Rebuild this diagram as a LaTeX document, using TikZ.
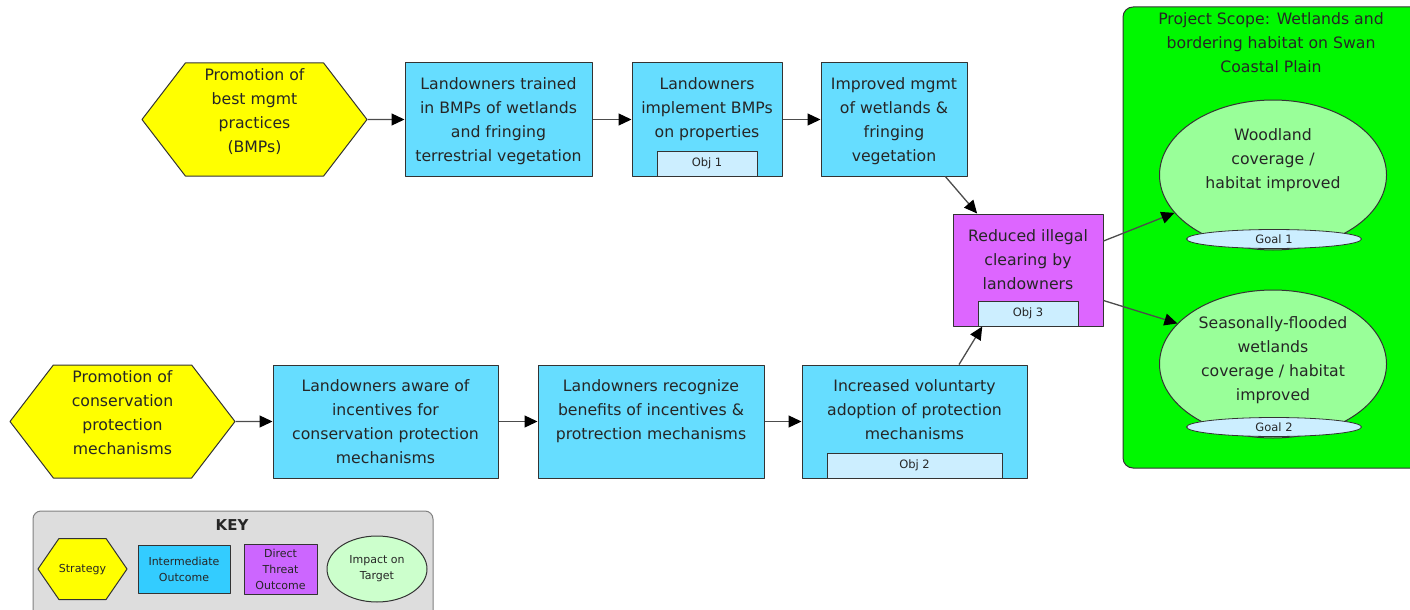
\documentclass[tikz,border=0pt]{standalone}
\usepackage{fontspec}
\setmainfont{DejaVu Sans}
\usetikzlibrary{arrows.meta}
\usetikzlibrary{positioning,shapes.symbols,shapes.geometric}
\definecolor{stratyellow}{HTML}{FFFF00}
\definecolor{intercyan}{HTML}{66DDFF}
\definecolor{keycyan}{HTML}{33CCFF}
\definecolor{threatmag}{HTML}{DD66FF}
\definecolor{keymag}{HTML}{CC66FF}
\definecolor{scopegreen}{HTML}{00F800}
\definecolor{impactgreen}{HTML}{99FF99}
\definecolor{keygreen}{HTML}{CCFFCC}
\definecolor{objblue}{HTML}{CCEEFF}
\definecolor{keygray}{HTML}{DDDDDD}
\definecolor{edgegray}{HTML}{333333}
\tikzset{boxtxt/.style={align=center,inner sep=0pt,text=black!85,font=\fontsize{15.7}{24}\selectfont},
  keytxt/.style={align=center,inner sep=0pt,text=black!85,font=\fontsize{11}{16}\selectfont}}

\begin{document}
\begin{tikzpicture}[x=1pt,y=-1pt,line join=round,
  strat/.style={signal,signal to=east and west,signal pointer angle=105,draw=edgegray,line width=1pt,fill=stratyellow,
    minimum width=225pt,minimum height=113pt,inner sep=0pt,boxtxt,text depth=18pt},
  interm/.style={rectangle,draw=edgegray,line width=1pt,fill=intercyan,minimum width=#1,minimum height=113pt,inner sep=0pt},
  threat/.style={rectangle,draw=edgegray,line width=1pt,fill=threatmag,minimum width=150pt,minimum height=112pt,inner sep=0pt},
  objbox/.style={rectangle,draw=edgegray,line width=0.8pt,fill=objblue,minimum width=#1,minimum height=25pt,inner sep=0pt,
    anchor=south,text=black!85,font=\fontsize{11.5}{14}\selectfont},
  impact/.style={ellipse,draw=edgegray,line width=1pt,fill=impactgreen,minimum width=227pt,minimum height=#1,inner sep=0pt},
  goal/.style={ellipse,draw=edgegray,line width=0.8pt,fill=objblue,minimum width=175pt,minimum height=19pt,inner sep=0pt,
    text=black!85,font=\fontsize{11.5}{14}\selectfont},
  conn/.style={draw=black!70,line width=1.3pt,-{Triangle[length=13pt,width=12pt,color=black]}}]
\clip (0,0) rectangle (1410,610);
% --- project scope
\draw[draw=edgegray,line width=1pt,fill=scopegreen,rounded corners=10pt] (1123,7) rectangle (1440,468);
\node[boxtxt,anchor=north] (scopetitle) at (1271,12.5) {Project Scope: Wetlands and\\bordering habitat on Swan\\Coastal Plain};
\node[impact=150pt] (woodland) at (1273,175) {};
\node[boxtxt,below=29pt of woodland.north] (woodlandtxt) {Woodland\\coverage /\\habitat improved};
\node[goal] (goal1) at (1274,239) {Goal 1};
\node[impact=148pt] (wetlands) at (1273,364) {};
\node[boxtxt,below=27pt of wetlands.north] (wetlandstxt) {Seasonally-flooded\\wetlands\\coverage / habitat\\improved};
\node[goal] (goal2) at (1274,427) {Goal 2};
% --- BMP chain
\node[strat] (bmp) at (254.5,119.5) {Promotion of\\best mgmt\\practices\\(BMPs)};
\node[interm=187pt] (trained) at (498.5,119.5) {};
\node[boxtxt,below=15pt of trained.north] (trainedtxt) {Landowners trained\\in BMPs of wetlands\\and fringing\\terrestrial vegetation};
\node[interm=150pt] (implement) at (707,119.5) {};
\node[boxtxt,below=15pt of implement.north] (implementtxt) {Landowners\\implement BMPs\\on properties};
\node[objbox=100pt] (obj1) at (implement.south) {Obj 1};
\node[interm=146pt] (mgmt) at (894,119.5) {};
\node[boxtxt,below=15pt of mgmt.north] (mgmttxt) {Improved mgmt\\of wetlands \&\\fringing\\vegetation};
% --- direct threat
\node[threat] (clearing) at (1028,270) {};
\node[boxtxt,below=16pt of clearing.north] (clearingtxt) {Reduced illegal\\clearing by\\landowners};
\node[objbox=100pt] (obj3) at (clearing.south) {Obj 3};
% --- incentives chain
\node[strat] (protect) at (122.5,421.5) {Promotion of\\conservation\\protection\\mechanisms};
\node[interm=225pt] (aware) at (385.5,421.5) {};
\node[boxtxt,below=15pt of aware.north] (awaretxt) {Landowners aware of\\incentives for\\conservation protection\\mechanisms};
\node[interm=226pt] (recognize) at (651,421.5) {};
\node[boxtxt,below=15pt of recognize.north] (recognizetxt) {Landowners recognize\\benefits of incentives \&\\protrection mechanisms};
\node[interm=225pt] (adoption) at (914.5,421.5) {};
\node[boxtxt,below=15pt of adoption.north] (adoptiontxt) {Increased voluntarty\\adoption of protection\\mechanisms};
\node[objbox=175pt] (obj2) at (adoption.south) {Obj 2};
% --- links
\draw[conn] (bmp) -- (trained);
\draw[conn] (trained) -- (implement);
\draw[conn] (implement) -- (mgmt);
\draw[conn] (mgmt.-48) -- (clearing.132);
\draw[conn] (protect) -- (aware);
\draw[conn] (aware) -- (recognize);
\draw[conn] (recognize) -- (adoption);
\draw[conn] (adoption.52) -- (clearing.-129);
\draw[conn] (clearing.21) -- (woodland.-159);
\draw[conn] (clearing.-22) -- (wetlands.157);
% --- key
\draw[draw=gray,line width=1pt,fill=keygray,rounded corners=8pt] (33,511) rectangle (433,640);
\node[font=\bfseries\fontsize{15}{18}\selectfont,text=black!85] (keytitle) at (232,525) {KEY};
\node[strat,minimum width=89pt,minimum height=61pt,signal pointer angle=111,keytxt,text depth=2pt] (keystrat) at (82.5,569) {Strategy};
\node[interm=92pt,minimum height=48pt,fill=keycyan,keytxt] (keyinterm) at (184,569) {Intermediate\\Outcome};
\node[threat,minimum width=73pt,minimum height=50pt,fill=keymag,keytxt] (keythreat) at (280.5,569) {Direct\\Threat\\Outcome};
\node[ellipse,draw=edgegray,line width=1pt,fill=keygreen,minimum width=100pt,minimum height=66pt,inner sep=0pt,keytxt] (keyimpact) at (377,569) {Impact on\\Target};
\end{tikzpicture}
\end{document}
